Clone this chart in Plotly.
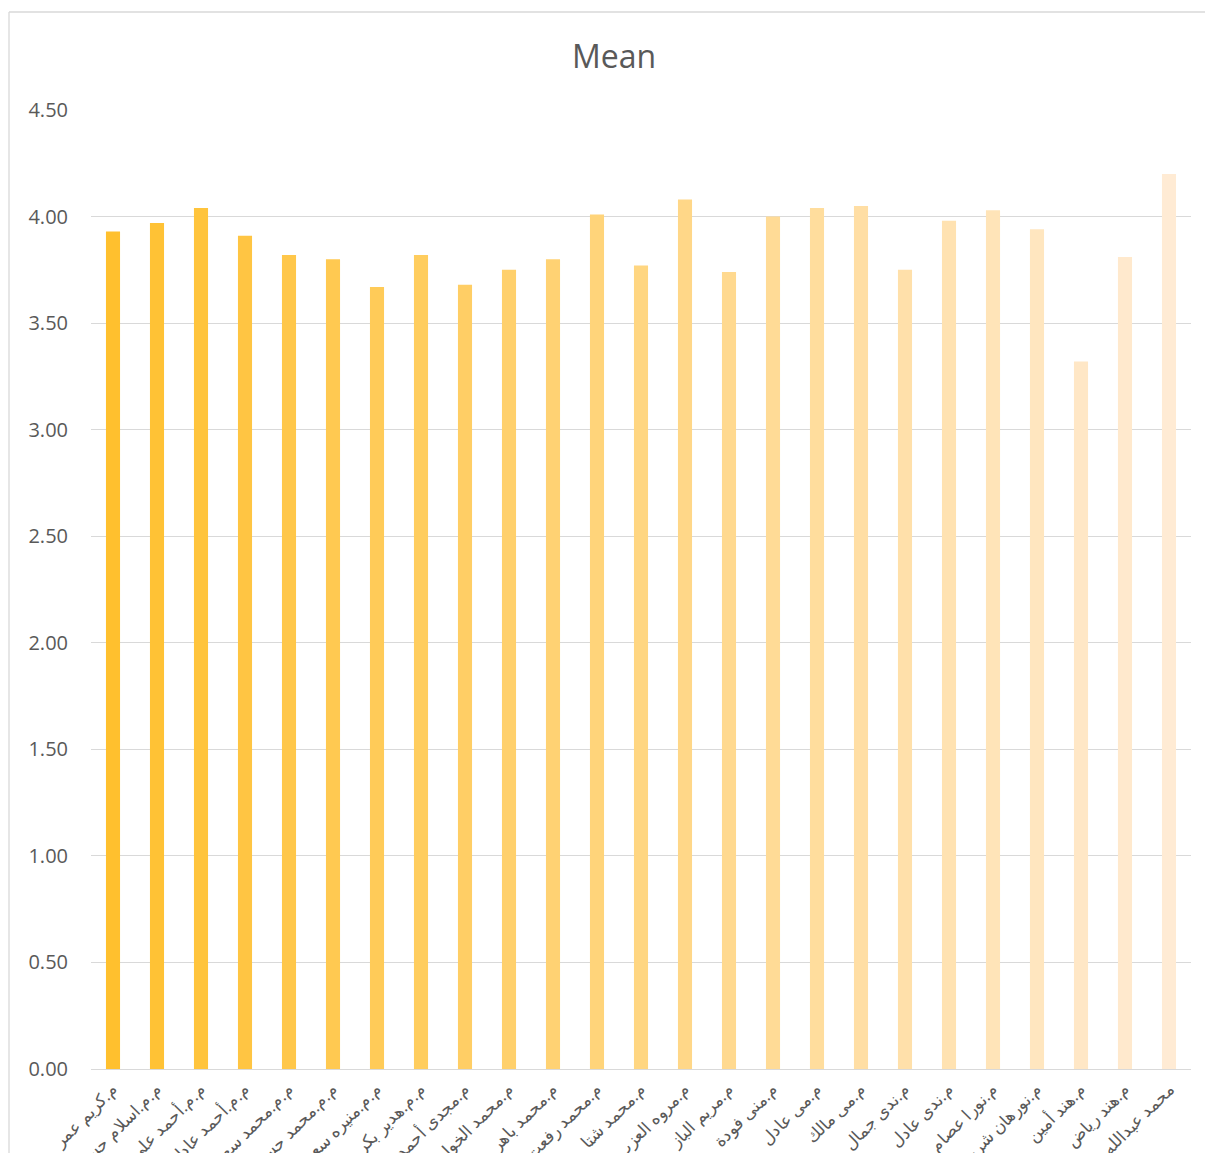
import plotly.graph_objects as go

categories = [
    "م.كريم عمر", "م.م.اسلام حسن", "م.م.أحمد علي", "م.م.أحمد عادل",
    "م.م.محمد سعيد", "م.م.محمد حسن", "م.م.منيره سعيد", "م.م.هدير بكر",
    "م.مجدى أحمد", "م.محمد الخولي", "م.محمد باهر", "م.محمد رفعت",
    "م.محمد شتا", "م.مروه العزب", "م.مريم الباز", "م.منى فودة",
    "م.مى عادل", "م.مى مالك", "م.ندى جمال", "م.ندى عادل",
    "م.نورا عصام", "م.نورهان شريف", "م.هند أمين", "م.هند رياض",
    "محمد عبدالله",
]
mean_values = [
    3.93, 3.97, 4.04, 3.91, 3.82, 3.80, 3.67, 3.82, 3.68, 3.75,
    3.80, 4.01, 3.77, 4.08, 3.74, 4.00, 4.04, 4.05, 3.75, 3.98,
    4.03, 3.94, 3.32, 3.81, 4.20,
]
y_ticks = [0, 0.5, 1.0, 1.5, 2.0, 2.5, 3.0, 3.5, 4.0, 4.5]

# gradient of bar colours (golden -> pale)
c0 = (255, 192, 46)
c1 = (255, 235, 212)
n = len(categories)
colors = []
for i in range(n):
    t = i / (n - 1)
    r = round(c0[0] + (c1[0] - c0[0]) * t)
    g = round(c0[1] + (c1[1] - c0[1]) * t)
    b = round(c0[2] + (c1[2] - c0[2]) * t)
    colors.append(f"rgb({r},{g},{b})")

fig = go.Figure(go.Bar(x=categories, y=mean_values, marker_color=colors,
                       marker_line_width=0))

W, H = 1205, 1153
L, R, T, B = 91, 14, 110, 84
pw, ph = W - L - R, H - T - B

fig.update_layout(
    template="none",
    width=W, height=H,
    margin=dict(l=L, r=R, t=T, b=B, autoexpand=False),
    paper_bgcolor="white", plot_bgcolor="white",
    bargap=0.68,
    showlegend=False,
    title=dict(text="Mean", xref="container", x=614 / W, xanchor="center",
               y=1 - 57 / H, yanchor="middle",
               font=dict(family="Open Sans", size=32, color="#595959")),
    font=dict(family="Open Sans", color="#595959"),
)
fig.update_yaxes(
    range=[0, 4.5], tickvals=y_ticks, tickformat=".2f",
    showgrid=True, gridcolor="#D9D9D9", gridwidth=1.3,
    zeroline=True, zerolinecolor="#D9D9D9", zerolinewidth=1.3,
    showline=False, ticks="", ticklabelstandoff=22,
    tickfont=dict(family="Open Sans", size=20, color="#595959"),
    automargin=False,
)
fig.update_xaxes(
    tickangle=-45, showgrid=False, showline=False, ticks="",
    ticklabelstandoff=6,
    tickfont=dict(family="Open Sans", size=17, color="#595959"),
    automargin=False,
)
# chart-area border (left and top edges)
bx = (9 - L) / pw
by = 1 + (T - 12) / ph
fig.add_shape(type="line", xref="paper", yref="paper", x0=bx, x1=bx, y0=-0.2, y1=by,
              line=dict(color="#D9D9D9", width=1.3))
fig.add_shape(type="line", xref="paper", yref="paper", x0=bx, x1=1.05, y0=by, y1=by,
              line=dict(color="#D9D9D9", width=1.3))

fig.write_html("out.html", config={"displayModeBar": False},
               post_script="document.body.style.margin='0';document.body.style.overflow='hidden';")
